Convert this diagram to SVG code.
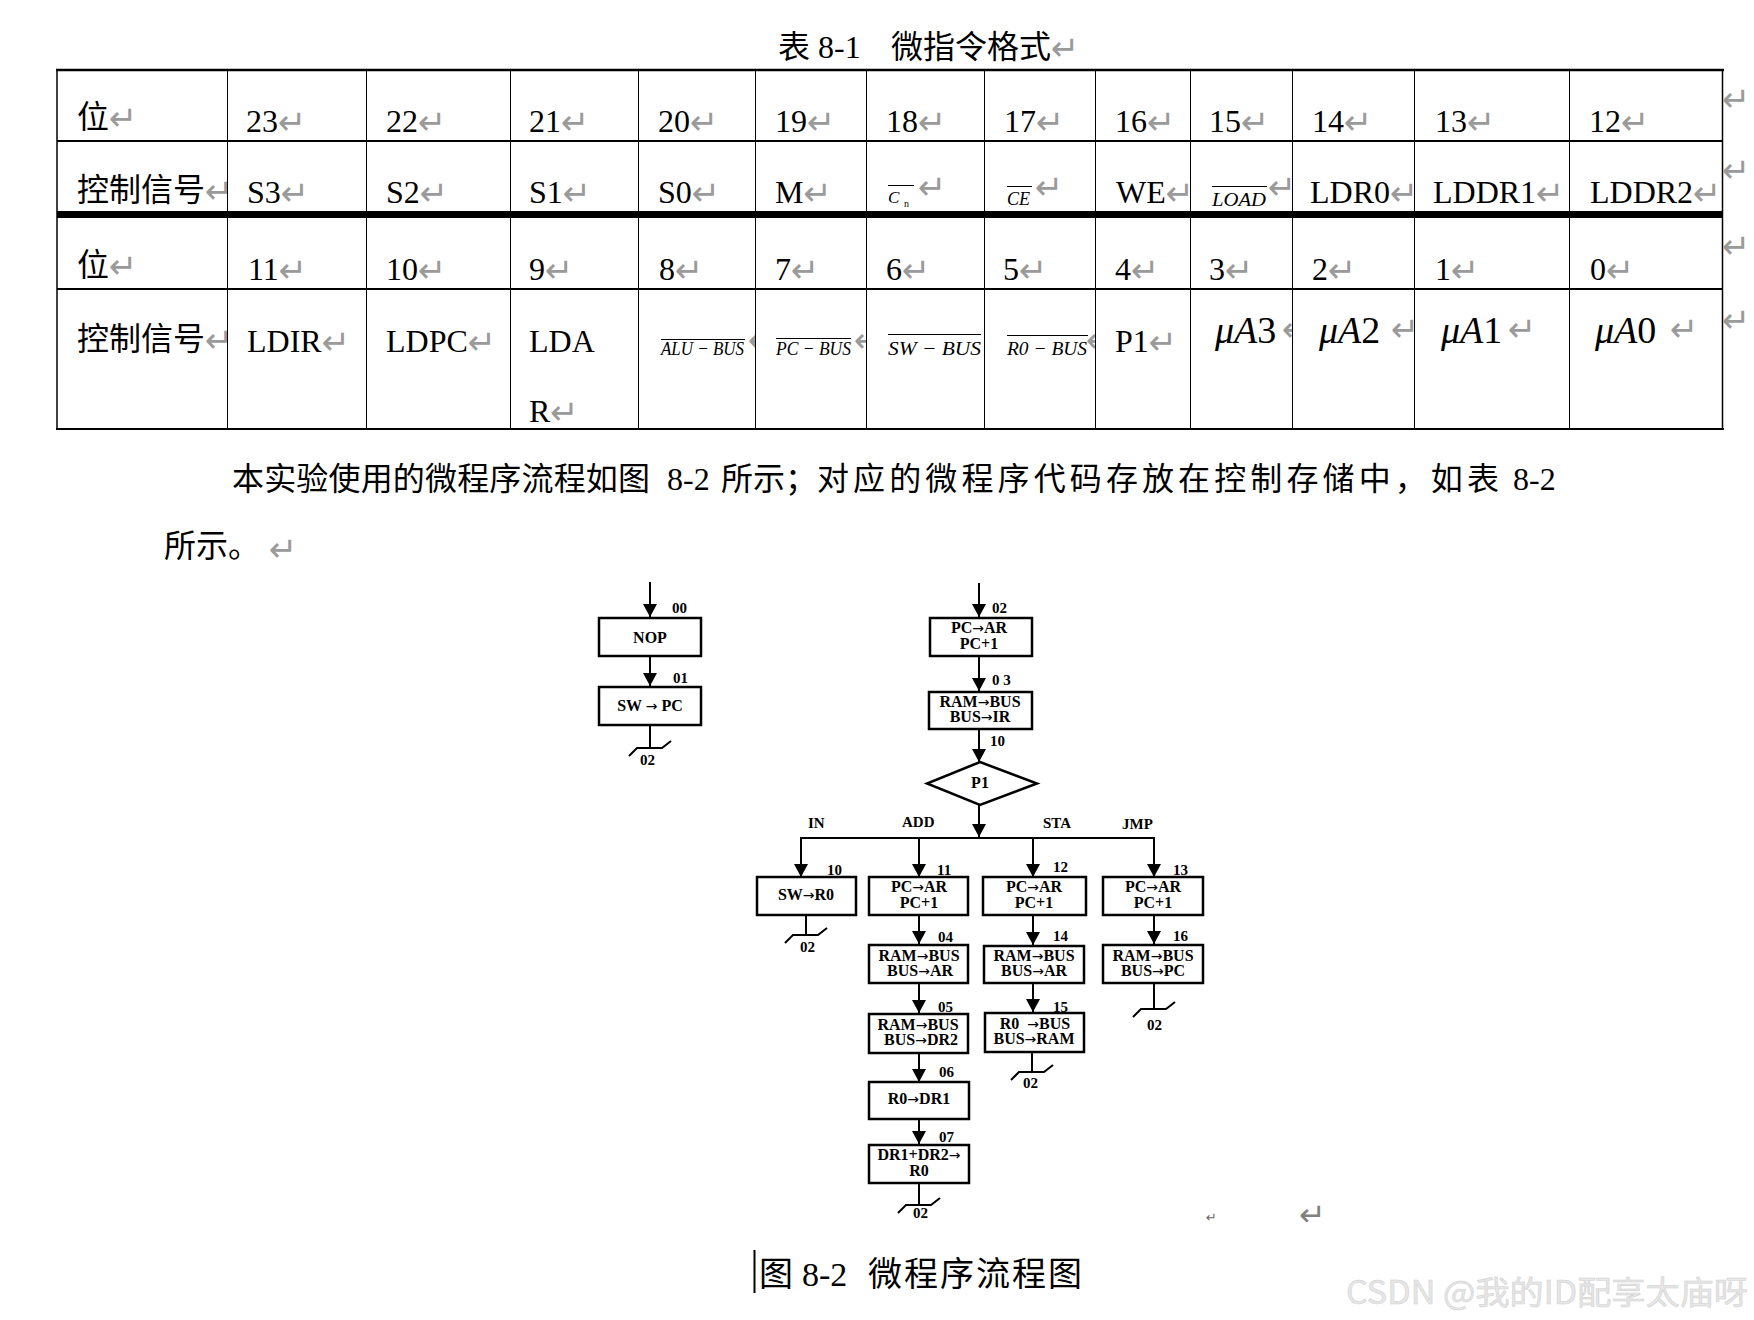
<svg xmlns="http://www.w3.org/2000/svg" width="1754" height="1320" viewBox="0 0 1754 1320">
<style>
.t{font-family:'Liberation Serif','Noto Sans CJK SC',serif;font-size:32px;fill:#000}
.cj{font-family:'Liberation Serif','Noto Sans CJK SC',serif;font-size:32px;fill:#000}
.rt{font-family:'DejaVu Sans',sans-serif;font-size:34px;fill:#9a9a9a;font-style:normal;font-weight:normal}
.it{font-family:'Liberation Serif',serif;font-style:italic;font-size:19px;fill:#000}
.mu{font-family:'Liberation Serif',serif;font-style:italic;font-size:38px;fill:#000}
.up{font-style:normal}
.ol{stroke:#000;stroke-width:1}
.fc{font-family:'Liberation Serif',serif;font-weight:bold;font-size:16px;text-anchor:middle;fill:#000}
.ar{font-family:'DejaVu Sans',sans-serif;font-weight:normal;font-size:14px}
.lb{font-family:'Liberation Serif',serif;font-weight:bold;font-size:15px;fill:#000}
.box{fill:#fff;stroke:#000;stroke-width:2.5}
.ln{stroke:#000;stroke-width:2;fill:none}
.vl{stroke:#000;stroke-width:1}
.wm{font-family:'Noto Sans CJK SC',sans-serif;font-size:32px;fill:#e6e6e6;stroke:#cfcfcf;stroke-width:0.5}
</style>
<defs>
<marker id="ah" markerUnits="userSpaceOnUse" markerWidth="14" markerHeight="14" refX="13" refY="7" orient="auto">
<path d="M0,0 L13,7 L0,14 z" fill="#000"/>
</marker>
<path id="gnd" d="M-21,8 L-13,0 L12,0 L21,-7" fill="none" stroke="#000" stroke-width="2"/>
<clipPath id="c0"><rect x="57" y="70" width="170" height="360"/></clipPath>
<clipPath id="c4"><rect x="638" y="290" width="117" height="140"/></clipPath>
<clipPath id="c5"><rect x="755" y="290" width="111" height="140"/></clipPath>
<clipPath id="c6"><rect x="866" y="290" width="118" height="140"/></clipPath>
<clipPath id="c7"><rect x="984" y="290" width="111" height="140"/></clipPath>
<clipPath id="c9"><rect x="1190" y="290" width="102" height="140"/></clipPath>
<clipPath id="r2"><rect x="57" y="141" width="1666" height="70"/></clipPath>
<clipPath id="r2b"><rect x="1095" y="141" width="95" height="70"/></clipPath>
</defs>
<rect width="1754" height="1320" fill="#fff"/>

<g id="title">
<text class="cj" x="778" y="58">表</text>
<text class="t" x="818" y="58">8-1</text>
<text class="cj" x="891" y="58">微指令格式<tspan class="rt" dy="2">↵</tspan></text>
</g>

<g id="table">
<g id="grid">
<line x1="56" y1="70" x2="1724" y2="70" stroke="#000" stroke-width="2.5"/>
<line x1="57" y1="141" x2="1723" y2="141" stroke="#000" stroke-width="2"/>
<line x1="57" y1="214.5" x2="1723" y2="214.5" stroke="#000" stroke-width="7"/>
<line x1="57" y1="289" x2="1723" y2="289" stroke="#000" stroke-width="2"/>
<line x1="56" y1="429" x2="1724" y2="429" stroke="#000" stroke-width="1.8"/>
<line x1="57" y1="70" x2="57" y2="429" stroke="#000" stroke-width="1.5"/>
<line x1="1722.5" y1="70" x2="1722.5" y2="429" stroke="#000" stroke-width="1.5"/>
<line class="vl" x1="227.5" y1="70" x2="227.5" y2="429"/>
<line class="vl" x1="366.5" y1="70" x2="366.5" y2="429"/>
<line class="vl" x1="510.5" y1="70" x2="510.5" y2="429"/>
<line class="vl" x1="638.5" y1="70" x2="638.5" y2="429"/>
<line class="vl" x1="755.5" y1="70" x2="755.5" y2="429"/>
<line class="vl" x1="866.5" y1="70" x2="866.5" y2="429"/>
<line class="vl" x1="984.5" y1="70" x2="984.5" y2="429"/>
<line class="vl" x1="1095.5" y1="70" x2="1095.5" y2="429"/>
<line class="vl" x1="1190.5" y1="70" x2="1190.5" y2="429"/>
<line class="vl" x1="1292.5" y1="70" x2="1292.5" y2="429"/>
<line class="vl" x1="1414.5" y1="70" x2="1414.5" y2="429"/>
<line class="vl" x1="1569.5" y1="70" x2="1569.5" y2="429"/>
</g>

<g id="row1">
<text class="cj" x="77" y="128">位<tspan class="rt" dy="2">↵</tspan></text>
<text class="t" x="246" y="132">23<tspan class="rt" dy="2">↵</tspan></text>
<text class="t" x="386" y="132">22<tspan class="rt" dy="2">↵</tspan></text>
<text class="t" x="529" y="132">21<tspan class="rt" dy="2">↵</tspan></text>
<text class="t" x="658" y="132">20<tspan class="rt" dy="2">↵</tspan></text>
<text class="t" x="775" y="132">19<tspan class="rt" dy="2">↵</tspan></text>
<text class="t" x="886" y="132">18<tspan class="rt" dy="2">↵</tspan></text>
<text class="t" x="1004" y="132">17<tspan class="rt" dy="2">↵</tspan></text>
<text class="t" x="1115" y="132">16<tspan class="rt" dy="2">↵</tspan></text>
<text class="t" x="1209" y="132">15<tspan class="rt" dy="2">↵</tspan></text>
<text class="t" x="1312" y="132">14<tspan class="rt" dy="2">↵</tspan></text>
<text class="t" x="1435" y="132">13<tspan class="rt" dy="2">↵</tspan></text>
<text class="t" x="1589" y="132">12<tspan class="rt" dy="2">↵</tspan></text>
</g>

<g id="row2" clip-path="url(#r2)">
<text class="cj" x="77" y="201" clip-path="url(#c0)">控制信号<tspan class="rt" dy="2">↵</tspan></text>
<text class="t" x="247" y="203">S3<tspan class="rt" dy="2">↵</tspan></text>
<text class="t" x="386" y="203">S2<tspan class="rt" dy="2">↵</tspan></text>
<text class="t" x="529" y="203">S1<tspan class="rt" dy="2">↵</tspan></text>
<text class="t" x="658" y="203">S0<tspan class="rt" dy="2">↵</tspan></text>
<text class="t" x="775" y="203">M<tspan class="rt" dy="2">↵</tspan></text>
<text class="it" x="888" y="203" style="font-size:17px">C</text>
<text class="t" x="904" y="207" style="font-size:10px">n</text>
<line class="ol" x1="888" y1="185.5" x2="914" y2="185.5"/>
<text class="rt" x="918" y="199">↵</text>
<text class="it" x="1007" y="205" style="font-size:18px">CE</text>
<line class="ol" x1="1007" y1="186.5" x2="1032" y2="186.5"/>
<text class="rt" x="1035" y="199">↵</text>
<text class="t" x="1116" y="203" clip-path="url(#r2b)">WE<tspan class="rt" dy="2">↵</tspan></text>
<text class="it" x="1212" y="206" textLength="54" lengthAdjust="spacingAndGlyphs">LOAD</text>
<line class="ol" x1="1212" y1="186.5" x2="1267" y2="186.5"/>
<text class="rt" x="1268" y="199">↵</text>
<text class="t" x="1310" y="203">LDR0<tspan class="rt" dy="2">↵</tspan></text>
<text class="t" x="1433" y="203">LDDR1<tspan class="rt" dy="2">↵</tspan></text>
<text class="t" x="1590" y="203">LDDR2<tspan class="rt" dy="2">↵</tspan></text>
</g>

<g id="row3">
<text class="cj" x="77" y="276">位<tspan class="rt" dy="2">↵</tspan></text>
<text class="t" x="248" y="280">11<tspan class="rt" dy="2">↵</tspan></text>
<text class="t" x="386" y="280">10<tspan class="rt" dy="2">↵</tspan></text>
<text class="t" x="529" y="280">9<tspan class="rt" dy="2">↵</tspan></text>
<text class="t" x="659" y="280">8<tspan class="rt" dy="2">↵</tspan></text>
<text class="t" x="775" y="280">7<tspan class="rt" dy="2">↵</tspan></text>
<text class="t" x="886" y="280">6<tspan class="rt" dy="2">↵</tspan></text>
<text class="t" x="1003" y="280">5<tspan class="rt" dy="2">↵</tspan></text>
<text class="t" x="1115" y="280">4<tspan class="rt" dy="2">↵</tspan></text>
<text class="t" x="1209" y="280">3<tspan class="rt" dy="2">↵</tspan></text>
<text class="t" x="1312" y="280">2<tspan class="rt" dy="2">↵</tspan></text>
<text class="t" x="1435" y="280">1<tspan class="rt" dy="2">↵</tspan></text>
<text class="t" x="1590" y="280">0<tspan class="rt" dy="2">↵</tspan></text>
</g>

<g id="row4">
<text class="cj" x="77" y="350" clip-path="url(#c0)">控制信号<tspan class="rt" dy="2">↵</tspan></text>
<text class="t" x="247" y="352">LDIR<tspan class="rt" dy="2">↵</tspan></text>
<text class="t" x="386" y="352">LDPC<tspan class="rt" dy="2">↵</tspan></text>
<text class="t" x="529" y="352">LDA</text>
<text class="t" x="529" y="422">R<tspan class="rt" dy="2">↵</tspan></text>
<text class="it" x="661" y="355" textLength="83" lengthAdjust="spacingAndGlyphs">ALU − BUS</text>
<text class="rt" x="748" y="352" clip-path="url(#c4)">↵</text>
<line class="ol" x1="661" y1="339.5" x2="745" y2="339.5"/>
<text class="it" x="776" y="355" textLength="75" lengthAdjust="spacingAndGlyphs">PC − BUS</text>
<text class="rt" x="854" y="352" clip-path="url(#c5)">↵</text>
<line class="ol" x1="776" y1="338.5" x2="851" y2="338.5"/>
<text class="it" x="888" y="355" textLength="93" lengthAdjust="spacingAndGlyphs" clip-path="url(#c6)">SW − BUS</text>
<line class="ol" x1="888" y1="334.5" x2="981" y2="334.5"/>
<text class="it" x="1007" y="355" textLength="80" lengthAdjust="spacingAndGlyphs">R0 − BUS</text>
<text class="rt" x="1086" y="352" clip-path="url(#c7)">↵</text>
<line class="ol" x1="1007" y1="335.5" x2="1088" y2="335.5"/>
<text class="t" x="1115" y="352">P1<tspan class="rt" dy="2">↵</tspan></text>
<text class="mu" x="1215" y="343">μA<tspan class="up">3</tspan></text>
<text class="rt" x="1282" y="341" clip-path="url(#c9)">↵</text>
<text class="mu" x="1319" y="343">μA<tspan class="up">2</tspan></text>
<text class="rt" x="1391" y="341">↵</text>
<text class="mu" x="1441" y="343">μA<tspan class="up">1</tspan></text>
<text class="rt" x="1508" y="341">↵</text>
<text class="mu" x="1595" y="343">μA<tspan class="up">0</tspan></text>
<text class="rt" x="1670" y="341">↵</text>
</g>

<g id="rowmarks">
<text class="rt" x="1722" y="111">↵</text>
<text class="rt" x="1722" y="182">↵</text>
<text class="rt" x="1722" y="258">↵</text>
<text class="rt" x="1722" y="332">↵</text>
</g>
</g>

<g id="paragraph">
<text class="cj" x="232" y="490" textLength="418" lengthAdjust="spacing">本实验使用的微程序流程如图</text>
<text class="t" x="667" y="490">8-2</text>
<text class="cj" x="721" y="490">所示；</text>
<text class="cj" x="817" y="490" textLength="682" lengthAdjust="spacing">对应的微程序代码存放在控制存储中，如表</text>
<text class="t" x="1513" y="490">8-2</text>
<text class="cj" x="164" y="557">所示。</text>
<text class="rt" x="269" y="561">↵</text>
</g>

<g id="connectors">
<line class="ln" x1="650" y1="582" x2="650" y2="617" marker-end="url(#ah)"/>
<line class="ln" x1="650" y1="656" x2="650" y2="686" marker-end="url(#ah)"/>
<line class="ln" x1="650" y1="725" x2="650" y2="748"/>
<use href="#gnd" x="650" y="748"/>
<line class="ln" x1="979" y1="583" x2="979" y2="617" marker-end="url(#ah)"/>
<line class="ln" x1="979" y1="656" x2="979" y2="691" marker-end="url(#ah)"/>
<line class="ln" x1="979" y1="729" x2="979" y2="762" marker-end="url(#ah)"/>
<line class="ln" x1="979" y1="805" x2="979" y2="837" marker-end="url(#ah)"/>
<line class="ln" x1="800" y1="838" x2="1155" y2="838"/>
<line class="ln" x1="801" y1="838" x2="801" y2="877" marker-end="url(#ah)"/>
<line class="ln" x1="919" y1="838" x2="919" y2="877" marker-end="url(#ah)"/>
<line class="ln" x1="1033" y1="838" x2="1033" y2="877" marker-end="url(#ah)"/>
<line class="ln" x1="1154" y1="838" x2="1154" y2="877" marker-end="url(#ah)"/>
<line class="ln" x1="806" y1="915" x2="806" y2="935"/>
<use href="#gnd" x="806" y="935"/>
<line class="ln" x1="919" y1="915" x2="919" y2="944" marker-end="url(#ah)"/>
<line class="ln" x1="919" y1="983" x2="919" y2="1013" marker-end="url(#ah)"/>
<line class="ln" x1="919" y1="1053" x2="919" y2="1082" marker-end="url(#ah)"/>
<line class="ln" x1="919" y1="1119" x2="919" y2="1144" marker-end="url(#ah)"/>
<line class="ln" x1="919" y1="1183" x2="919" y2="1205"/>
<use href="#gnd" x="919" y="1205"/>
<line class="ln" x1="1033" y1="915" x2="1033" y2="945" marker-end="url(#ah)"/>
<line class="ln" x1="1033" y1="983" x2="1033" y2="1012" marker-end="url(#ah)"/>
<line class="ln" x1="1032" y1="1052" x2="1032" y2="1072"/>
<use href="#gnd" x="1032" y="1072"/>
<line class="ln" x1="1154" y1="915" x2="1154" y2="944" marker-end="url(#ah)"/>
<line class="ln" x1="1154" y1="983" x2="1154" y2="1009"/>
<use href="#gnd" x="1154" y="1009"/>
</g>

<g id="labels">
<text class="lb" x="672" y="613">00</text>
<text class="lb" x="673" y="683">01</text>
<text class="lb" x="640" y="765">02</text>
<text class="lb" x="992" y="613">02</text>
<text class="lb" x="992" y="685">0 3</text>
<text class="lb" x="990" y="746">10</text>
<text class="lb" x="808" y="828">IN</text>
<text class="lb" x="902" y="827">ADD</text>
<text class="lb" x="1043" y="828">STA</text>
<text class="lb" x="1122" y="829">JMP</text>
<text class="lb" x="827" y="875">10</text>
<text class="lb" x="937" y="875">11</text>
<text class="lb" x="1053" y="872">12</text>
<text class="lb" x="1173" y="875">13</text>
<text class="lb" x="800" y="952">02</text>
<text class="lb" x="938" y="942">04</text>
<text class="lb" x="1053" y="941">14</text>
<text class="lb" x="1173" y="941">16</text>
<text class="lb" x="938" y="1012">05</text>
<text class="lb" x="1053" y="1012">15</text>
<text class="lb" x="1147" y="1030">02</text>
<text class="lb" x="939" y="1077">06</text>
<text class="lb" x="1023" y="1088">02</text>
<text class="lb" x="939" y="1142">07</text>
<text class="lb" x="913" y="1218">02</text>
</g>

<g id="n00"><rect class="box" x="599" y="618" width="102" height="38"/><text class="fc" x="650" y="643">NOP</text></g>
<g id="n01"><rect class="box" x="599" y="687" width="102" height="38"/><text class="fc" x="650" y="711">SW <tspan class="ar">→</tspan> PC</text></g>
<g id="n02"><rect class="box" x="930" y="618" width="102" height="38"/><text class="fc" x="979" y="633">PC<tspan class="ar">→</tspan>AR</text><text class="fc" x="979" y="649">PC+1</text></g>
<g id="n03"><rect class="box" x="929" y="692" width="103" height="37"/><text class="fc" x="980" y="707">RAM<tspan class="ar">→</tspan>BUS</text><text class="fc" x="980" y="722">BUS<tspan class="ar">→</tspan>IR</text></g>
<g id="p1"><polygon class="box" points="980,762 1037,783.5 980,805 927,783.5"/><text class="fc" x="980" y="788">P1</text></g>
<g id="n10"><rect class="box" x="757" y="877" width="99" height="38"/><text class="fc" x="806" y="900">SW<tspan class="ar">→</tspan>R0</text></g>
<g id="n11"><rect class="box" x="869" y="877" width="99" height="38"/><text class="fc" x="919" y="892">PC<tspan class="ar">→</tspan>AR</text><text class="fc" x="919" y="908">PC+1</text></g>
<g id="n12"><rect class="box" x="983" y="877" width="103" height="38"/><text class="fc" x="1034" y="892">PC<tspan class="ar">→</tspan>AR</text><text class="fc" x="1034" y="908">PC+1</text></g>
<g id="n13"><rect class="box" x="1103" y="877" width="100" height="38"/><text class="fc" x="1153" y="892">PC<tspan class="ar">→</tspan>AR</text><text class="fc" x="1153" y="908">PC+1</text></g>
<g id="n04"><rect class="box" x="869" y="945" width="99" height="38"/><text class="fc" x="919" y="961">RAM<tspan class="ar">→</tspan>BUS</text><text class="fc" x="920" y="976">BUS<tspan class="ar">→</tspan>AR</text></g>
<g id="n14"><rect class="box" x="984" y="946" width="100" height="37"/><text class="fc" x="1034" y="961">RAM<tspan class="ar">→</tspan>BUS</text><text class="fc" x="1034" y="976">BUS<tspan class="ar">→</tspan>AR</text></g>
<g id="n16"><rect class="box" x="1103" y="945" width="100" height="38"/><text class="fc" x="1153" y="961">RAM<tspan class="ar">→</tspan>BUS</text><text class="fc" x="1153" y="976">BUS<tspan class="ar">→</tspan>PC</text></g>
<g id="n05"><rect class="box" x="869" y="1014" width="99" height="39"/><text class="fc" x="918" y="1030">RAM<tspan class="ar">→</tspan>BUS</text><text class="fc" x="921" y="1045">BUS<tspan class="ar">→</tspan>DR2</text></g>
<g id="n15"><rect class="box" x="985" y="1013" width="99" height="39"/><text class="fc" x="1035" y="1029" xml:space="preserve">R0  <tspan class="ar">→</tspan>BUS</text><text class="fc" x="1034" y="1044">BUS<tspan class="ar">→</tspan>RAM</text></g>
<g id="n06"><rect class="box" x="869" y="1082" width="100" height="37"/><text class="fc" x="919" y="1104">R0<tspan class="ar">→</tspan>DR1</text></g>
<g id="n07"><rect class="box" x="869" y="1145" width="100" height="38"/><text class="fc" x="919" y="1160">DR1+DR2<tspan class="ar">→</tspan></text><text class="fc" x="919" y="1176">R0</text></g>

<g id="marks">
<text class="rt" x="1206" y="1222" style="font-size:13px;fill:#666">↵</text>
<text class="rt" x="1299" y="1226" style="font-size:32px;fill:#808080">↵</text>
</g>

<g id="caption">
<line x1="754.5" y1="1250" x2="754.5" y2="1293" stroke="#000" stroke-width="2"/>
<text class="cj" x="759" y="1286" style="font-size:34px">图</text>
<text class="t" x="802" y="1286" style="font-size:34px">8-2</text>
<text class="cj" x="868" y="1286" style="font-size:34px" textLength="214" lengthAdjust="spacing">微程序流程图</text>
</g>

<g id="watermark">
<text class="wm" x="1346" y="1304" textLength="402" lengthAdjust="spacingAndGlyphs">CSDN @我的ID配享太庙呀</text>
</g>
</svg>
